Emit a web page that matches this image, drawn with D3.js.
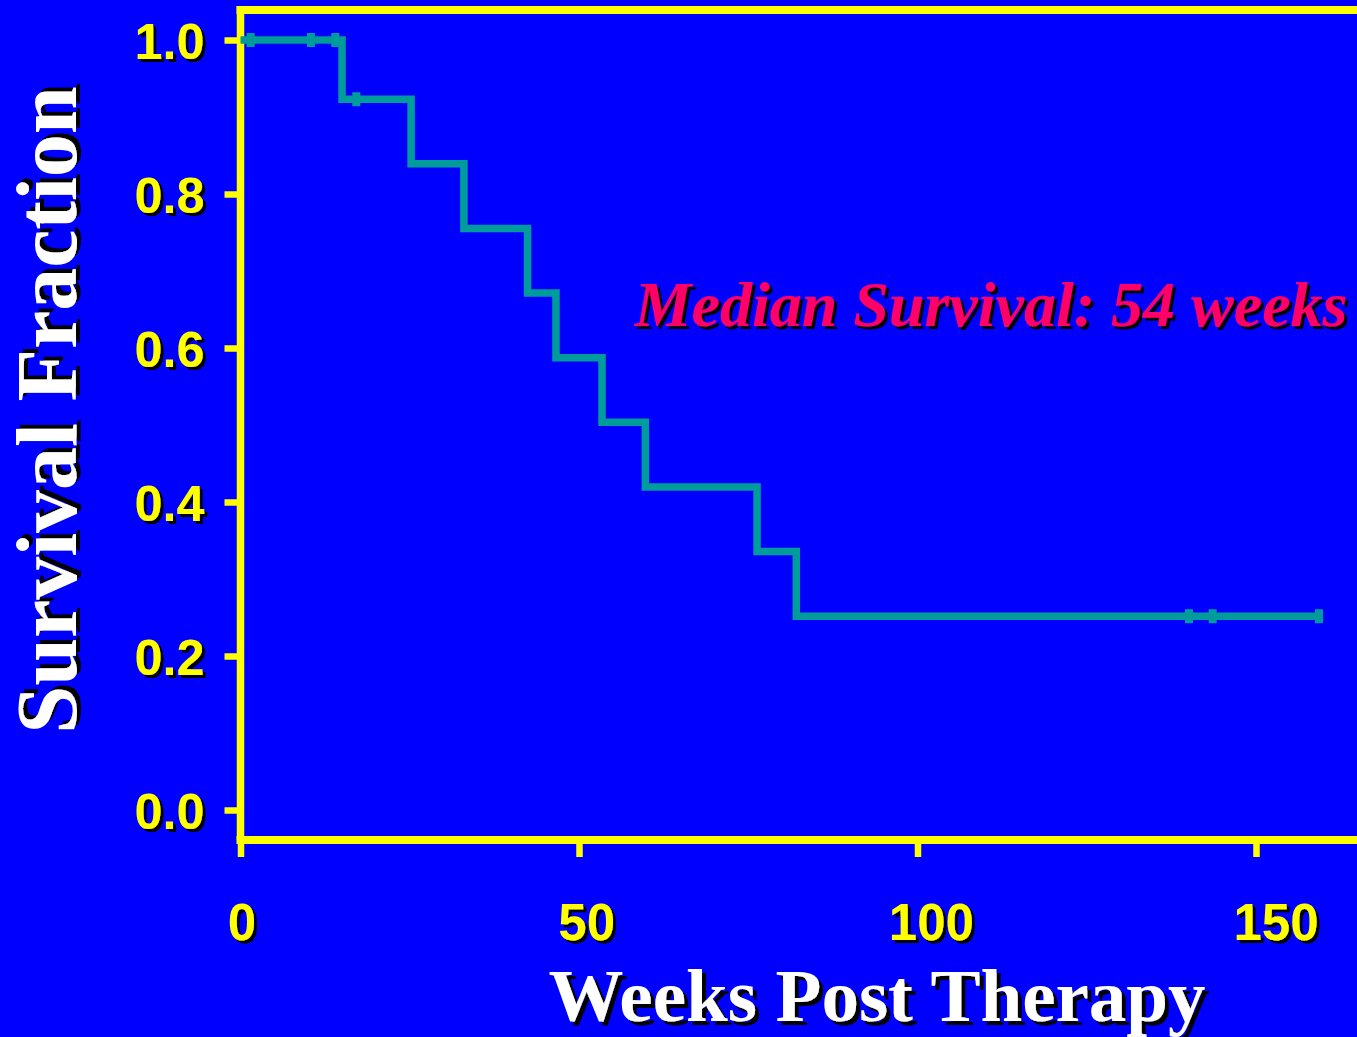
<!DOCTYPE html>
<html>
<head>
<meta charset="utf-8">
<script src="https://cdn.jsdelivr.net/npm/d3@7"></script>
<style>
  html, body { margin: 0; padding: 0; background: #0000FF; }
  svg { display: block; }
</style>
</head>
<body>
<svg id="chart" width="1357" height="1037"></svg>
<script>
// ---- data ----
const eventWeeks = [0, 15, 25.2, 33, 42.4, 46.6, 53.4, 59.8, 76.3, 82.1];
const survival   = [1.0, 0.9231, 0.8392, 0.7552, 0.6713, 0.5874, 0.5035, 0.4196, 0.3357, 0.2517];
const lastWeek   = 159.3;
const censorWeeks = [1.5, 10.4, 14.0, 17.1, 140.1, 143.6, 159.3];
const yTicks = [0.0, 0.2, 0.4, 0.6, 0.8, 1.0];
const xTicks = [0, 50, 100, 150];
const yTitle = "Survival Fraction";
const xTitle = "Weeks Post Therapy";
const note = "Median Survival: 54 weeks";

// ---- layout ----
const svg = d3.select("#chart");
const W = 1357, H = 1037;
const x = d3.scaleLinear().domain([0, 150]).range([240.5, 1256]);
const xLab = d3.scaleLinear().domain([0, 150]).range([242, 1276]);
const y = d3.scaleLinear().domain([0, 1]).range([810, 40]);

const yellow = "#FFFF00", teal = "#009B9B";
const sans = "'Liberation Sans', Arial, sans-serif";
const serif = "'Liberation Serif', 'Times New Roman', serif";

const defs = svg.append("defs");
[["sh3", 3], ["sh4", 4]].forEach(([id, o]) => {
  defs.append("filter").attr("id", id).attr("x", "-10%").attr("y", "-10%").attr("width", "130%").attr("height", "130%")
    .append("feDropShadow").attr("dx", o).attr("dy", o).attr("stdDeviation", 0)
    .attr("flood-color", "#000").attr("flood-opacity", 1);
});

svg.append("rect").attr("width", W).attr("height", H).attr("fill", "#0000FF");

// frame
const frameTop = 10, frameBottom = 840, frameLeft = 240.5;
svg.append("line").attr("x1", frameLeft - 4).attr("x2", W).attr("y1", frameTop).attr("y2", frameTop)
  .attr("stroke", yellow).attr("stroke-width", 8);
svg.append("line").attr("x1", frameLeft - 4).attr("x2", W).attr("y1", frameBottom).attr("y2", frameBottom)
  .attr("stroke", yellow).attr("stroke-width", 8);
svg.append("line").attr("x1", frameLeft).attr("x2", frameLeft).attr("y1", frameTop - 4).attr("y2", frameBottom)
  .attr("stroke", yellow).attr("stroke-width", 7.5);

// y axis
const yAxis = d3.axisLeft(y).tickValues(yTicks).tickSize(16).tickPadding(20).tickFormat(d3.format(".1f"));
const gy = svg.append("g").attr("transform", `translate(${frameLeft},0)`).call(yAxis);
gy.select(".domain").remove();
gy.selectAll(".tick line").attr("stroke", yellow).attr("stroke-width", 6.5);
gy.selectAll(".tick text")
  .attr("x", -36).attr("dy", "0.36em")
  .attr("text-anchor", "end").attr("fill", yellow)
  .attr("font-family", sans).attr("font-weight", "bold").attr("font-size", 50)
  .attr("textLength", 70).attr("lengthAdjust", "spacingAndGlyphs")
  .attr("filter", "url(#sh3)");

// x axis
const xAxis = d3.axisBottom(x).tickValues(xTicks).tickSize(17).tickFormat("");
const gx = svg.append("g").attr("transform", `translate(0,${frameBottom})`).call(xAxis);
gx.select(".domain").remove();
gx.selectAll(".tick line").attr("stroke", yellow).attr("stroke-width", 6.5);
gx.selectAll(".tick text").remove();
svg.append("g").selectAll("text").data(xTicks).join("text")
  .attr("x", d => xLab(d)).attr("y", 940)
  .attr("text-anchor", "middle").attr("fill", yellow)
  .attr("font-family", sans).attr("font-weight", "bold").attr("font-size", 51)
  .attr("filter", "url(#sh3)")
  .text(d => d);

// survival curve
const pts = eventWeeks.map((w, i) => [w, survival[i]]);
pts.push([lastWeek + 0.6, survival[survival.length - 1]]);
const line = d3.line().x(d => x(d[0])).y(d => y(d[1])).curve(d3.curveStepAfter);
svg.append("path").attr("d", line(pts)).attr("fill", "none")
  .attr("stroke", teal).attr("stroke-width", 7.5).attr("stroke-linejoin", "miter");

function survAt(w) {
  let s = survival[0];
  eventWeeks.forEach((e, i) => { if (e <= w) s = survival[i]; });
  return s;
}
svg.append("g").selectAll("rect").data(censorWeeks).join("rect")
  .attr("x", d => x(d) - 4).attr("y", d => y(survAt(d)) - 7)
  .attr("width", 8).attr("height", 14).attr("fill", teal);

// titles
svg.append("text").attr("transform", "translate(76,410) rotate(-90)")
  .attr("text-anchor", "middle").attr("fill", "#FFFFFF")
  .attr("font-family", serif).attr("font-weight", "bold").attr("font-size", 86)
  .attr("filter", "url(#sh4)")
  .text(yTitle);
svg.append("text").attr("x", 877).attr("y", 1021)
  .attr("text-anchor", "middle").attr("fill", "#FFFFFF")
  .attr("font-family", serif).attr("font-weight", "bold").attr("font-size", 75)
  .attr("filter", "url(#sh4)")
  .text(xTitle);
svg.append("text").attr("x", 991).attr("y", 326)
  .attr("text-anchor", "middle").attr("fill", "#FF0066")
  .attr("font-family", serif).attr("font-weight", "bold").attr("font-style", "italic").attr("font-size", 64)
  .attr("filter", "url(#sh3)")
  .text(note);
</script>
</body>
</html>
